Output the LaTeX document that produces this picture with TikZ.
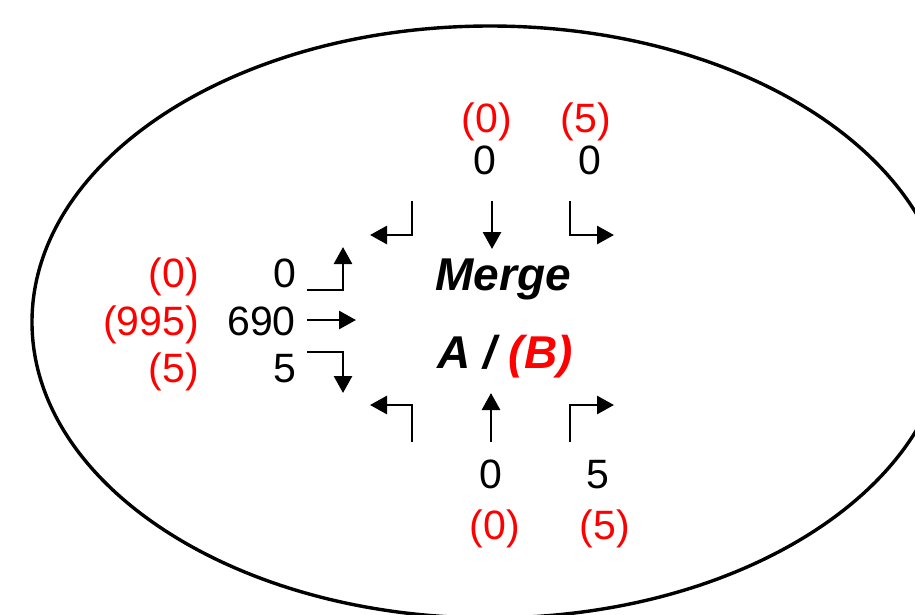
\documentclass[tikz,border=0pt]{standalone}
\usepackage{fontspec}
\setmainfont{Liberation Sans}
\usetikzlibrary{arrows.meta}
\tikzset{
  num/.style={inner sep=0pt, font=\fontsize{41}{45}\selectfont},
  rednum/.style={num, text=red},
  title/.style={inner sep=0pt, font=\fontsize{46}{50}\selectfont\bfseries\itshape},
  turn/.style={line width=2.8pt, -{Triangle[length=17pt,width=18pt]}},
}
\begin{document}
\begin{tikzpicture}[x=1pt,y=-1pt]
\useasboundingbox (0,0) rectangle (915,614);
\begin{scope}
\clip (0,0) rectangle (915,614);
\draw[line width=3.4pt] (490,322) ellipse [x radius=458pt, y radius=296pt];
\end{scope}

% top labels
\node[rednum, anchor=base] (tr0) at (487,132) {(0)};
\node[rednum, anchor=base] (tr5) at (586,132) {(5)};
\node[num, anchor=base] (tb0) at (485,174) {0};
\node[num, anchor=base] (tb5) at (590,174) {0};

% left labels
\node[rednum, anchor=base east] (lr0) at (199,287) {(0)};
\node[rednum, anchor=base east] (lr995) at (199,335) {(995)};
\node[rednum, anchor=base east] (lr5) at (199,382) {(5)};
\node[num, anchor=base east] (lb0) at (296,287) {0};
\node[num, anchor=base east] (lb690) at (296,335) {690};
\node[num, anchor=base east] (lb5) at (296,382) {5};

% bottom labels
\node[num, anchor=base] (bb0) at (491,488) {0};
\node[num, anchor=base] (bb5) at (598,488) {5};
\node[rednum, anchor=base] (br0) at (495,539) {(0)};
\node[rednum, anchor=base] (br5) at (605,539) {(5)};

% centre
\node[title, anchor=base] (merge) at (503,290) {Merge};
\node[title, anchor=base] (ab) at (505,368) {A / \textcolor{red}{(B)}};

% top arrows
\coordinate (t1a) at (412,201); \coordinate (t1b) at (412,235); \coordinate (t1c) at (370,235);
\draw[turn] (t1a) -- (t1b) -- (t1c);
\coordinate (t2a) at (492,201); \coordinate (t2b) at (492,249);
\draw[turn] (t2a) -- (t2b);
\coordinate (t3a) at (570,201); \coordinate (t3b) at (570,235); \coordinate (t3c) at (614,235);
\draw[turn] (t3a) -- (t3b) -- (t3c);

% left arrows
\coordinate (l1a) at (307,290); \coordinate (l1b) at (343,290); \coordinate (l1c) at (343,247);
\draw[turn] (l1a) -- (l1b) -- (l1c);
\coordinate (l2a) at (307,320); \coordinate (l2b) at (356,320);
\draw[turn] (l2a) -- (l2b);
\coordinate (l3a) at (307,352); \coordinate (l3b) at (343,352); \coordinate (l3c) at (343,393);
\draw[turn] (l3a) -- (l3b) -- (l3c);

% bottom arrows
\coordinate (b1a) at (412,442); \coordinate (b1b) at (412,405); \coordinate (b1c) at (370,405);
\draw[turn] (b1a) -- (b1b) -- (b1c);
\coordinate (b2a) at (491,442); \coordinate (b2b) at (491,393);
\draw[turn] (b2a) -- (b2b);
\coordinate (b3a) at (570,442); \coordinate (b3b) at (570,405); \coordinate (b3c) at (614,405);
\draw[turn] (b3a) -- (b3b) -- (b3c);
\end{tikzpicture}
\end{document}
